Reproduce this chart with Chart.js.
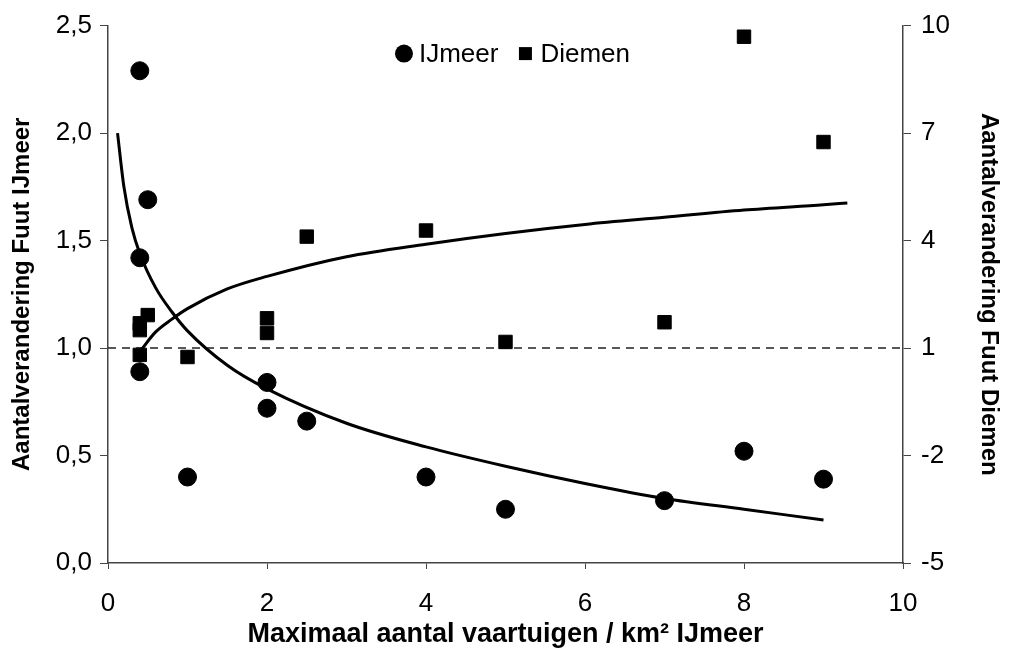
<!DOCTYPE html>
<html>
<head>
<meta charset="utf-8">
<script src="https://cdn.jsdelivr.net/npm/chart.js@4.4.1/dist/chart.umd.min.js"></script>
<style>
  html, body { margin: 0; padding: 0; background: #fff; }
  #wrap { width: 1011px; height: 651px; }
</style>
</head>
<body>
<div id="wrap"><canvas id="grafica" width="1011" height="651"></canvas></div>
<script>
// Waarnemingen IJmeer (linker as)
var ijmeerX = [0.4, 0.5, 0.4, 0.4, 1, 2, 2, 2.5, 4, 5, 7, 8, 9];
var ijmeerY = [2.29, 1.69, 1.42, 0.89, 0.40, 0.84, 0.72, 0.66, 0.40, 0.25, 0.29, 0.52, 0.39];

// Waarnemingen Diemen (rechter as)
var diemenX = [0.4, 0.4, 0.5, 0.4, 1, 2, 2, 2.5, 4, 5, 7, 8, 9];
var diemenY = [1.69, 1.5, 1.92, 0.81, 0.75, 1.83, 1.42, 4.11, 4.28, 1.17, 1.72, 9.69, 6.75];

// Trendlijnen
var trendIjX = [0.12, 0.2, 0.3, 0.4, 0.6, 0.8, 1, 1.5, 2, 3, 4, 5, 6, 7, 8, 9];
var trendIjY = [2.00, 1.75, 1.56, 1.44, 1.28, 1.17, 1.08, 0.92, 0.81, 0.65, 0.54, 0.45, 0.37, 0.30, 0.25, 0.20];
var trendDiX = [0.4, 0.6, 0.8, 1, 1.5, 2, 3, 4, 5, 6, 7, 8, 9, 9.3];
var trendDiY = [0.9, 1.45, 1.8, 2.1, 2.65, 3.0, 3.55, 3.9, 4.2, 4.45, 4.65, 4.85, 5.0, 5.05];

// Referentielijn (geen verandering)
var refX = [0, 10];
var refY = [1, 1];

// Aslabels
var ticksX = [0, 2, 4, 6, 8, 10];
var ticksLinks = [0, 0.5, 1, 1.5, 2, 2.5];
var ticksRechts = [-5, -2, 1, 4, 7, 10];

function punten(xs, ys) {
    return xs.map(function (x, i) { return { x: x, y: ys[i] }; });
}

var fontNaam = '"Liberation Sans", Arial, sans-serif';

// Legenda binnen het plotvlak, bovenaan
var legendaPlugin = {
    id: 'legendaBinnen',
    afterDraw: function (chart) {
        var c = chart.ctx;
        var area = chart.chartArea;
        var sets = chart.data.datasets.slice(0, 2);
        c.save();
        c.font = '26px ' + fontNaam;
        c.textBaseline = 'middle';
        c.fillStyle = '#000';
        var marker = 18, gap = 6, tussen = 18;
        var breedte = 0;
        sets.forEach(function (d, i) {
            breedte += marker + gap + c.measureText(d.label).width + (i < sets.length - 1 ? tussen : 0);
        });
        var x = (area.left + area.right) / 2 + 7 - breedte / 2;
        var y = area.top + 28;
        sets.forEach(function (d) {
            c.beginPath();
            if (d.pointStyle === 'rect') {
                c.rect(x + 2.5, y - 6.5, 13, 13);
            } else {
                c.arc(x + marker / 2, y, 9, 0, Math.PI * 2);
            }
            c.fill();
            x += marker + gap;
            c.fillText(d.label, x, y + 1);
            x += c.measureText(d.label).width + tussen;
        });
        c.restore();
    }
};

var ctx = document.getElementById('grafica').getContext('2d');

new Chart(ctx, {
    type: 'scatter',
    plugins: [legendaPlugin],
    data: {
        datasets: [{
            label: 'IJmeer',
            data: punten(ijmeerX, ijmeerY),
            pointStyle: 'circle',
            pointRadius: 9,
            backgroundColor: '#000',
            borderColor: '#000',
            yAxisID: 'y'
        }, {
            label: 'Diemen',
            data: punten(diemenX, diemenY),
            pointStyle: 'rect',
            pointRadius: 9.5,
            backgroundColor: '#000',
            borderColor: '#000',
            yAxisID: 'y2'
        }, {
            label: 'trend IJmeer',
            type: 'line',
            data: punten(trendIjX, trendIjY),
            borderColor: '#000',
            borderWidth: 3,
            pointRadius: 0,
            tension: 0.4,
            cubicInterpolationMode: 'monotone',
            yAxisID: 'y'
        }, {
            label: 'trend Diemen',
            type: 'line',
            data: punten(trendDiX, trendDiY),
            borderColor: '#000',
            borderWidth: 3,
            pointRadius: 0,
            tension: 0.4,
            cubicInterpolationMode: 'monotone',
            yAxisID: 'y2'
        }, {
            label: 'referentie',
            type: 'line',
            data: punten(refX, refY),
            borderColor: '#222',
            borderWidth: 1.5,
            borderDash: [8, 6],
            pointRadius: 0,
            yAxisID: 'y'
        }]
    },
    options: {
        responsive: false,
        animation: false,
        layout: { padding: { top: 21, left: 0, right: 0, bottom: 0 } },
        plugins: {
            tooltip: { enabled: false },
            legend: { display: false }
        },
        scales: {
            x: {
                type: 'linear',
                min: 0,
                max: 10,
                afterBuildTicks: function (s) { s.ticks = ticksX.map(function (v) { return { value: v }; }); },
                afterFit: function (s) { s.height = 88; },
                grid: { drawOnChartArea: false, tickLength: 6, color: '#444' },
                border: { color: '#444', width: 1.5 },
                ticks: { color: '#000', padding: 19, font: { family: fontNaam, size: 26 } },
                title: {
                    display: true,
                    text: 'Maximaal aantal vaartuigen / km² IJmeer',
                    color: '#000',
                    font: { family: fontNaam, size: 27, weight: 'bold' },
                    padding: { top: 0, bottom: 0 }
                }
            },
            y: {
                position: 'left',
                min: 0,
                max: 2.5,
                afterBuildTicks: function (s) { s.ticks = ticksLinks.map(function (v) { return { value: v }; }); },
                afterFit: function (s) { s.width = 108; },
                grid: { drawOnChartArea: false, tickLength: 8, color: '#444' },
                border: { color: '#444', width: 1.5 },
                ticks: {
                    color: '#000',
                    padding: 8,
                    font: { family: fontNaam, size: 26 },
                    callback: function (v) { return v.toFixed(1).replace('.', ','); }
                },
                title: {
                    display: true,
                    text: 'Aantalverandering Fuut IJmeer',
                    color: '#000',
                    font: { family: fontNaam, size: 24, weight: 'bold' },
                    padding: { top: 8, bottom: 0 }
                }
            },
            y2: {
                position: 'right',
                min: -5,
                max: 10,
                afterBuildTicks: function (s) { s.ticks = ticksRechts.map(function (v) { return { value: v }; }); },
                afterFit: function (s) { s.width = 108; },
                grid: { drawOnChartArea: false, tickLength: 8, color: '#444' },
                border: { color: '#444', width: 1.5 },
                ticks: { color: '#000', padding: 10, font: { family: fontNaam, size: 26 } },
                title: {
                    display: true,
                    text: 'Aantalverandering Fuut Diemen',
                    color: '#000',
                    font: { family: fontNaam, size: 24, weight: 'bold' },
                    padding: { top: 8, bottom: 0 }
                }
            }
        }
    }
});
</script>
</body>
</html>
